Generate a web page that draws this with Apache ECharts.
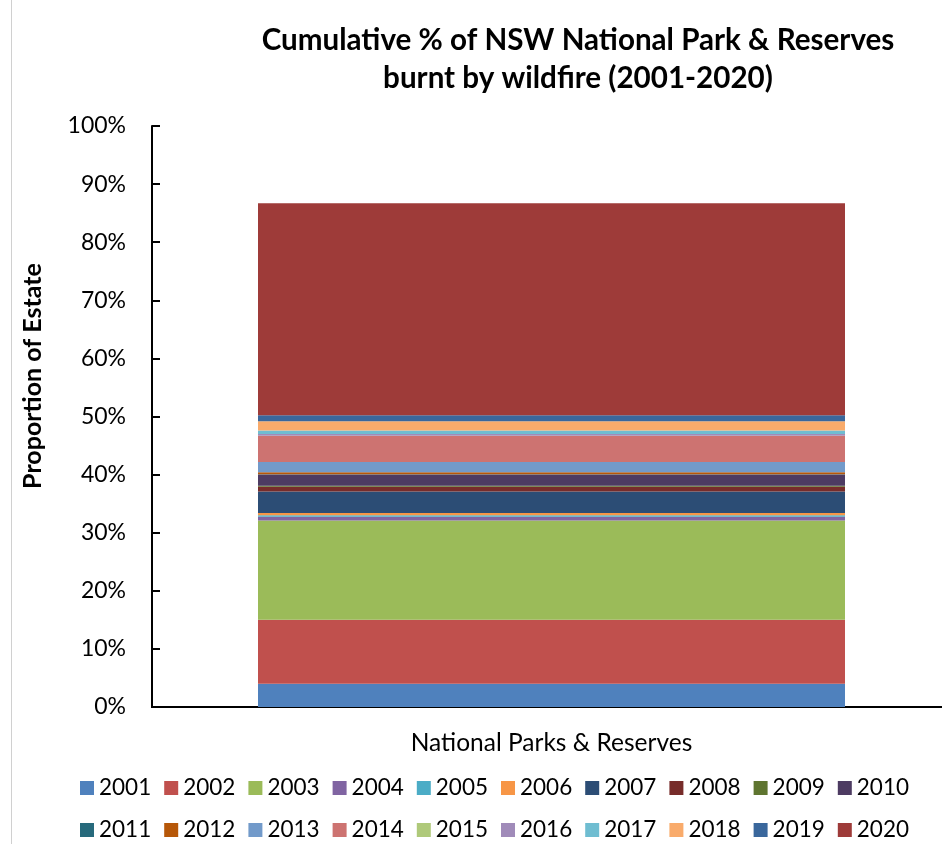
<!DOCTYPE html>
<html>
<head>
<meta charset="utf-8">
<script src="https://cdn.jsdelivr.net/npm/echarts@6/dist/echarts.min.js"></script>
<style>
  html, body { margin: 0; padding: 0; background: #fff; }
  #chart { width: 942px; height: 844px; }
</style>
</head>
<body>
<div id="chart"></div>
<script>
// Share of the NSW National Park & Reserve estate burnt each year (percent)
const categories = ['National Parks & Reserves'];
const years = ['2001','2002','2003','2004','2005','2006','2007','2008','2009','2010',
               '2011','2012','2013','2014','2015','2016','2017','2018','2019','2020'];
const burntPct = [4.0, 11.0, 17.1, 0.65, 0.25, 0.4, 3.7, 0.8, 0.2, 1.9,
                  0.05, 0.35, 1.75, 4.5, 0.05, 0.3, 0.6, 1.6, 1.0, 36.5];
const yearColors = ['#4F81BD','#C0504D','#9BBB59','#8064A2','#4BACC6','#F79646','#2C4D75','#772C2A','#5F7530','#4D3B62',
                    '#276A7C','#B65708','#729ACA','#CD7371','#AFC97A','#A08BB9','#6FBDD1','#F9AB6B','#3A679C','#9E3B39'];
const yTicks = { min: 0, max: 100, interval: 10 };

const FONT = 'Lato, "Open Sans", sans-serif';

const series = years.map((y, i) => ({
  name: y,
  type: 'bar',
  stack: 'total',
  barWidth: 587,
  itemStyle: { color: yearColors[i] },
  emphasis: { disabled: true },
  data: [burntPct[i]]
}));

const legendBase = {
  orient: 'horizontal',
  width: 900,
  itemWidth: 14,
  itemHeight: 14,
  itemGap: 13,
  icon: 'rect',
  padding: 0,
  textStyle: { fontFamily: FONT, fontSize: 22.5, color: '#000', lineHeight: 28 },
  selectedMode: false
};

// plot area starts 9px right of the value axis, which is pushed back with an offset
const chart = echarts.init(document.getElementById('chart'), null, { renderer: 'canvas' });
chart.setOption({
  animation: false,
  backgroundColor: '#fff',
  title: {
    text: 'Cumulative % of NSW National Park & Reserves\nburnt by wildfire (2001-2020)',
    left: 578,
    textAlign: 'center',
    top: 21,
    padding: 0,
    textStyle: { fontFamily: FONT, fontSize: 29.6, fontWeight: 'bold', color: '#000', lineHeight: 38 }
  },
  legend: [
    Object.assign({}, legendBase, { data: years.slice(0, 10), left: 80, top: 774 }),
    Object.assign({}, legendBase, { data: years.slice(10), left: 80, top: 816 })
  ],
  grid: { left: 161, right: 0, top: 126, bottom: 137, containLabel: false },
  xAxis: {
    type: 'category',
    data: categories,
    axisLine: { lineStyle: { color: '#000', width: 2 } },
    axisTick: { show: false },
    axisLabel: { fontFamily: FONT, fontSize: 24.5, color: '#000', margin: 24 }
  },
  yAxis: {
    type: 'value',
    min: yTicks.min,
    max: yTicks.max,
    interval: yTicks.interval,
    offset: 9,
    axisLine: { show: true, lineStyle: { color: '#000', width: 2 } },
    axisTick: { show: true, inside: true, length: 8, lineStyle: { color: '#000', width: 2 } },
    splitLine: { show: false },
    axisLabel: { fontFamily: FONT, fontSize: 23, color: '#000', margin: 26, formatter: '{value}%' }
  },
  graphic: [{
    type: 'line',
    shape: { x1: 11.5, y1: 0, x2: 11.5, y2: 844 },
    style: { stroke: '#d0d0d0', lineWidth: 1 },
    silent: true
  }, {
    // baseline segment between the value axis and the plot area
    type: 'line',
    shape: { x1: 151, y1: 707, x2: 162, y2: 707 },
    style: { stroke: '#000', lineWidth: 2 },
    silent: true
  }, {
    type: 'text',
    x: 33,
    y: 376,
    rotation: Math.PI / 2,
    silent: true,
    style: {
      text: 'Proportion of Estate',
      fontFamily: FONT,
      fontSize: 25,
      fontWeight: 'bold',
      fill: '#000',
      align: 'center',
      verticalAlign: 'middle'
    }
  }],
  series: series
});
</script>
</body>
</html>
